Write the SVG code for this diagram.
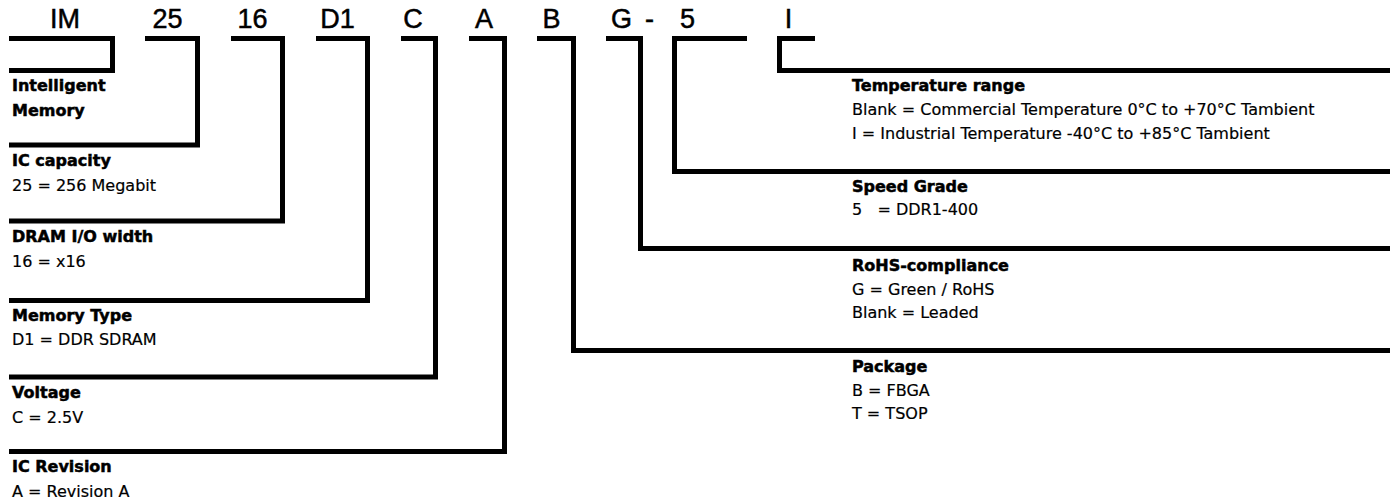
<svg xmlns="http://www.w3.org/2000/svg" width="1395" height="501" viewBox="0 0 1395 501">
  <style>
    .code { font-family: "Liberation Sans", Arial, sans-serif; font-size: 27px; fill: #000; stroke: #000; stroke-width: 0.5; text-anchor: middle; }
    .head { font-family: "DejaVu Sans", sans-serif; font-weight: bold; font-size: 16px; fill: #000; stroke: #000; stroke-width: 0.5; }
    .body { font-family: "DejaVu Sans", sans-serif; font-size: 16px; fill: #000; stroke: #000; stroke-width: 0.2; }
    .bracket { fill: none; stroke: #000; stroke-width: 5; stroke-linejoin: miter; stroke-linecap: butt; }
  </style>
  <rect width="1395" height="501" fill="#fff"/>

  <g id="connectors">
    <path class="bracket" d="M9,38.5 H112.5 V70.5 H9"/>
    <path class="bracket" d="M145,38.5 H197.5 V145 H9"/>
    <path class="bracket" d="M231,38.5 H282.5 V221 H9"/>
    <path class="bracket" d="M316,38.5 H367.5 V300.5 H9"/>
    <path class="bracket" d="M401,38.5 H435.5 V377 H9"/>
    <path class="bracket" d="M469,38.5 H504.5 V451.5 H9"/>
    <path class="bracket" d="M537,38.5 H573.5 V350.5 H1390"/>
    <path class="bracket" d="M606,38.5 H640.5 V248.5 H1390"/>
    <path class="bracket" d="M747,38.5 H674.5 V171.5 H1390"/>
    <path class="bracket" d="M815,38.5 H779.5 V70.5 H1390"/>
  </g>

  <g id="code-IM"><text class="code" x="65" y="28">IM</text></g>
  <g id="code-25"><text class="code" x="167.5" y="28">25</text></g>
  <g id="code-16"><text class="code" x="252.5" y="28">16</text></g>
  <g id="code-D1"><text class="code" x="337.5" y="28">D1</text></g>
  <g id="code-C"><text class="code" x="413" y="28">C</text></g>
  <g id="code-A"><text class="code" x="484" y="28">A</text></g>
  <g id="code-B"><text class="code" x="551.5" y="28">B</text></g>
  <g id="code-G"><text class="code" x="621.5" y="28">G</text></g>
  <g id="code-dash"><text class="code" x="649.5" y="28">-</text></g>
  <g id="code-5"><text class="code" x="687.5" y="28">5</text></g>
  <g id="code-I"><text class="code" x="788.5" y="28">I</text></g>

  <g id="desc-manufacturer">
    <text class="head" x="12" y="91">Intelligent</text>
    <text class="head" x="12" y="116">Memory</text>
  </g>
  <g id="desc-capacity">
    <text class="head" x="12" y="166">IC capacity</text>
    <text class="body" x="12" y="191">25 = 256 Megabit</text>
  </g>
  <g id="desc-width">
    <text class="head" x="12" y="242">DRAM I/O width</text>
    <text class="body" x="12" y="267">16 = x16</text>
  </g>
  <g id="desc-type">
    <text class="head" x="12" y="321">Memory Type</text>
    <text class="body" x="12" y="345">D1 = DDR SDRAM</text>
  </g>
  <g id="desc-voltage">
    <text class="head" x="12" y="398">Voltage</text>
    <text class="body" x="12" y="423">C = 2.5V</text>
  </g>
  <g id="desc-revision">
    <text class="head" x="12" y="472">IC Revision</text>
    <text class="body" x="12" y="497">A = Revision A</text>
  </g>

  <g id="desc-temperature">
    <text class="head" x="852" y="91">Temperature range</text>
    <text class="body" x="852" y="115">Blank = Commercial Temperature 0°C to +70°C Tambient</text>
    <text class="body" x="852" y="139">I = Industrial Temperature -40°C to +85°C Tambient</text>
  </g>
  <g id="desc-speed">
    <text class="head" x="852" y="192">Speed Grade</text>
    <text class="body" x="852" y="215" xml:space="preserve">5   = DDR1-400</text>
  </g>
  <g id="desc-rohs">
    <text class="head" x="852" y="271">RoHS-compliance</text>
    <text class="body" x="852" y="295">G = Green / RoHS</text>
    <text class="body" x="852" y="318">Blank = Leaded</text>
  </g>
  <g id="desc-package">
    <text class="head" x="852" y="372">Package</text>
    <text class="body" x="852" y="396">B = FBGA</text>
    <text class="body" x="852" y="419">T = TSOP</text>
  </g>
</svg>
